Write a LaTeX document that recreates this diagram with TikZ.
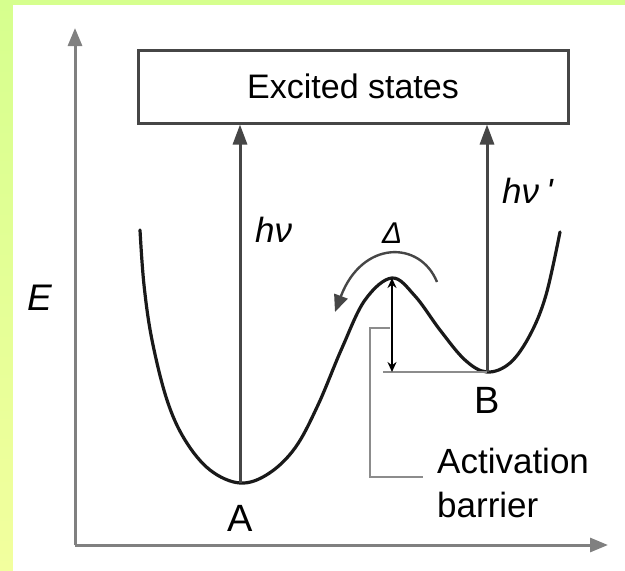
\documentclass[tikz,border=0pt]{standalone}
\usepackage{fontspec}
\setmainfont{Liberation Sans}
\usetikzlibrary{positioning,arrows.meta,calc}
\definecolor{framegreen}{RGB}{214,255,142}
\definecolor{frameyellow}{RGB}{242,255,158}
\definecolor{axisgray}{RGB}{128,128,128}
\definecolor{boxgray}{RGB}{70,70,70}
\definecolor{guidegray}{RGB}{140,140,140}
\definecolor{curveblack}{RGB}{25,25,25}
\tikzset{
  axis/.style    = {draw=axisgray, line width=3pt, -{Triangle[length=18pt,width=14pt]}, shorten >=-2pt},
  levelbox/.style= {draw=boxgray, line width=3pt, minimum width=430pt, minimum height=73pt, fill=white, font=\fontsize{34}{34}\selectfont},
  excite/.style  = {draw=boxgray, line width=3pt, -{Triangle[length=20pt,width=14pt]}},
  curve/.style   = {draw=curveblack, line width=3.2pt, line cap=round},
  guide/.style   = {draw=guidegray, line width=2.5pt},
  turn/.style    = {draw=boxgray, line width=2.4pt, -{Triangle[length=17pt,width=14pt]}},
  height/.style  = {draw=black, line width=2pt, {Stealth[length=10pt,width=9pt]}-{Stealth[length=10pt,width=9pt]}},
  letter/.style  = {inner sep=0pt, font=\fontsize{38}{38}\selectfont},
  symb/.style    = {inner sep=0pt, anchor=base west, font=\fontsize{35}{35}\selectfont\itshape},
}
\begin{document}
\begin{tikzpicture}[x=1pt,y=-1pt]
  \shade[top color=framegreen, bottom color=frameyellow] (0,0) rectangle (625,571);
  \fill[white] (13,5) rectangle (625,571);
  \useasboundingbox (0,0) rectangle (625,571);

  % axes
  \coordinate (orig) at (75,545);
  \coordinate (ytip) at (75,30);
  \coordinate (xtip) at (606,545);
  \draw[axis] (orig) -- (ytip);
  \draw[axis] (orig) -- (xtip);
  \node[symb, font=\fontsize{37}{37}\selectfont\itshape] (labE) at (27,310) {E};

  % excited states
  \node[levelbox] (excited) at (353,86.5) {Excited states};

  % potential curve
  \coordinate (minA) at (240,483);
  \coordinate (minB) at (487,372);
  \coordinate (peak) at (392,278);
  \draw[curve] plot[smooth, tension=0.6] coordinates {
    (140,230) (144,285) (152,340) (167,400) (185,440) (210,470) (minA)
    (268,474) (295,448) (318,405) (342,348) (365,300) (peak) (415,296)
    (440,330) (465,360) (minB) (510,363) (530,335) (546,295) (560,232)};

  \node[letter, below=22pt of minA] (labA) {A};
  \node[letter, below=15pt of minB] (labB) {B};

  % excitations
  \draw[excite] (minA) -- (minA |- excited.south);
  \draw[excite] (minB) -- (minB |- excited.south);
  \node[symb] (hv) at (255,242) {hν};
  \node[symb] (hvp) at (502,203) {hν\hspace{7pt}\textquotesingle};

  % barrier
  \coordinate (base) at (383,372);
  \draw[guide] (base) -- (minB);
  \draw[height] (peak) -- (peak |- minB);
  \draw[turn] (437,282) .. controls (420,240) and (362,240) .. (335,312);
  \node[symb, font=\fontsize{30}{30}\selectfont\itshape] (delta) at (382,243) {Δ};
  \draw[guide] (390,328) -- (370,328) -- (370,477) -- (423,477);
  \node[inner sep=0pt, anchor=north west, align=left, font=\fontsize{35}{44}\selectfont] (barrier) at (437,448) {Activation\\barrier};
\end{tikzpicture}
\end{document}
